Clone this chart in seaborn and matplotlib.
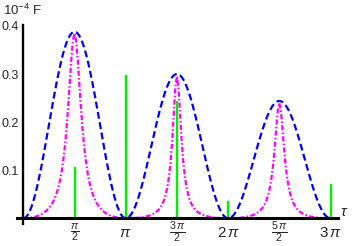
import numpy as np
import pandas as pd
import matplotlib
matplotlib.use("Agg")
import matplotlib.pyplot as plt
import seaborn as sns

# ---------------- data (tau in units of pi, F in units of 1e-4) ----------------
lobe_centers = [0.5, 1.5, 2.5]
blue_peaks = [0.388, 0.300, 0.244]
magenta_peaks = [0.385, 0.296, 0.240]

blue_half_profile = [1.0, 0.9976, 0.9904, 0.9785, 0.9619, 0.9410, 0.9157, 0.8865, 0.8536,
                     0.8172, 0.7778, 0.7357, 0.6913, 0.6451, 0.5976, 0.5490, 0.5000, 0.4510,
                     0.4025, 0.3549, 0.3087, 0.2643, 0.2222, 0.1828, 0.1465, 0.1135, 0.0843,
                     0.0590, 0.0381, 0.0215, 0.0096, 0.0024, 0.0]
magenta_half_lobe1 = [1.0, 0.9606, 0.8584, 0.7278, 0.5979, 0.4839, 0.3900, 0.3148, 0.2553,
                      0.2082, 0.1707, 0.1407, 0.1164, 0.0966, 0.0803, 0.0668, 0.0556, 0.0461,
                      0.0381, 0.0313, 0.0256, 0.0207, 0.0165, 0.0130, 0.0100, 0.0075, 0.0054,
                      0.0037, 0.0023, 0.0013, 0.0006, 0.0001, 0.0]
magenta_half_lobe2 = [1.0, 0.9139, 0.7255, 0.5382, 0.3932, 0.2901, 0.2179, 0.1669, 0.1300,
                      0.1028, 0.0824, 0.0666, 0.0543, 0.0445, 0.0367, 0.0303, 0.0250, 0.0206,
                      0.0170, 0.0139, 0.0113, 0.0091, 0.0073, 0.0057, 0.0044, 0.0033, 0.0024,
                      0.0016, 0.0010, 0.0006, 0.0003, 0.0001, 0.0]
magenta_half_lobe3 = [1.0, 0.9303, 0.7688, 0.5945, 0.4491, 0.3396, 0.2596, 0.2013, 0.1583,
                      0.1260, 0.1015, 0.0824, 0.0674, 0.0554, 0.0457, 0.0378, 0.0313, 0.0258,
                      0.0213, 0.0174, 0.0142, 0.0115, 0.0091, 0.0072, 0.0055, 0.0041, 0.0030,
                      0.0020, 0.0013, 0.0007, 0.0003, 0.0001, 0.0]
magenta_half_profiles = [magenta_half_lobe1, magenta_half_lobe2, magenta_half_lobe3]

green_positions = [0.5, 1.0, 1.5, 2.0, 3.0]
green_heights = [0.107, 0.298, 0.244, 0.037, 0.071]

xtick_positions = [0.5, 1.0, 1.5, 2.0, 2.5, 3.0]
xtick_labels = [r"$\frac{\pi}{2}$", r"$\pi$", r"$\frac{3\,\pi}{2}$", r"$2\,\pi$",
                r"$\frac{5\,\pi}{2}$", r"$3\,\pi$"]
ytick_values = [0.1, 0.2, 0.3, 0.4]
ytick_labels = ["0.1", "0.2", "0.3", "0.4"]

# ---------------- build curves ----------------
step = 1.0 / 64


def full_curve(centers, peaks, halves):
    taus, vals = [], []
    for k, (c, p, h) in enumerate(zip(centers, peaks, halves)):
        h = np.asarray(h)
        prof = np.concatenate([h[:0:-1], h])
        offs = np.arange(-(len(h) - 1), len(h)) * step
        if k < len(centers) - 1:
            prof, offs = prof[:-1], offs[:-1]
        taus.append((c + offs) * np.pi)
        vals.append(p * prof)
    return pd.DataFrame({"tau": np.concatenate(taus), "F": np.concatenate(vals)})


blue_df = full_curve(lobe_centers, blue_peaks, [blue_half_profile] * 3)
mag_df = full_curve(lobe_centers, magenta_peaks, magenta_half_profiles)

# ---------------- plot ----------------
sns.set_style("white")
plt.rcParams["font.family"] = ["Liberation Sans", "DejaVu Sans"]
plt.rcParams["mathtext.fontset"] = "custom"
plt.rcParams["mathtext.rm"] = "Liberation Sans"
plt.rcParams["mathtext.it"] = "Liberation Sans:italic"
plt.rcParams["mathtext.bf"] = "Liberation Sans:bold"

W, H = 353, 246
fig = plt.figure(figsize=(W / 100, H / 100), dpi=100)
ax = fig.add_axes([17 / W, 22 / H, 321 / W, 199 / H])

sns.lineplot(data=blue_df, x="tau", y="F", ax=ax, color="#0000ff", lw=1.6,
             linestyle=(0, (3.1, 1.6)), estimator=None, sort=False)
sns.lineplot(data=mag_df, x="tau", y="F", ax=ax, color="#ff00ff", lw=1.6,
             linestyle=(0, (2.3, 1.0, 0.7, 1.0)), estimator=None, sort=False)
ax.vlines(np.array(green_positions) * np.pi, 0, green_heights, color="#00f000", lw=1.7)

ax.set_xlim(-0.0615 * np.pi, 3.073 * np.pi)
ax.set_ylim(-0.0118, 0.402)

for s in ["top", "right"]:
    ax.spines[s].set_visible(False)
ax.spines["left"].set_position(("data", 0))
ax.spines["bottom"].set_position(("data", 0))
ax.spines["left"].set_linewidth(1.7)
ax.spines["bottom"].set_linewidth(2.2)
ax.spines["left"].set_color("black")
ax.spines["bottom"].set_color("black")

ax.set_xticks(np.array(xtick_positions) * np.pi, labels=xtick_labels)
ax.set_yticks(ytick_values, labels=ytick_labels)
ax.tick_params(axis="both", direction="in", length=3, width=1.3, color="black")
ax.tick_params(axis="x", labelsize=11, pad=10.5)
ax.tick_params(axis="y", labelsize=9, pad=3)
for lab in ax.get_xticklabels():
    lab.set_va("center")
ax.set_xlabel("")
ax.set_ylabel("")

fig.text(344 / W, 1 - 212 / H, r"$\tau$", ha="center", va="center", fontsize=11)
fig.text(3 / W, 1 - 10 / H, r"$10^{-4}$ F", ha="left", va="center", fontsize=9.5)

fig.savefig("out.png", dpi=100)
